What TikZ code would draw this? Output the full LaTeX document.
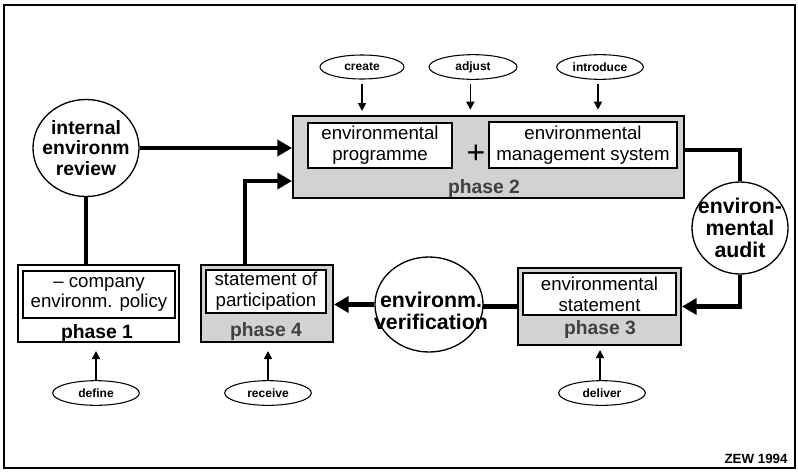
\documentclass[tikz,border=0pt]{standalone}
\usepackage{fontspec}
\setmainfont{Liberation Sans}
\usepackage{tikz}
\usetikzlibrary{arrows.meta, shapes.geometric, positioning, calc}

\begin{document}
\begin{tikzpicture}[x=0.75pt, y=-0.75pt,
    outerbox/.style={draw=black, line width=1.5pt, fill=gray!35, inner sep=0pt},
    innerbox/.style={draw=black, line width=1.2pt, fill=white, align=center, inner sep=0pt, font=\fontsize{14}{15.5}\selectfont},
    phaselabel/.style={font=\bfseries\fontsize{14.5}{16}\selectfont, text=black!75},
    stepcircle/.style={ellipse, draw=black, line width=1pt, fill=white, align=center, inner xsep=-5pt, inner ysep=0pt, font=\bfseries\fontsize{14.5}{15.5}\selectfont},
    action/.style={ellipse, draw=black, line width=0.8pt, fill=white, minimum width=65pt, minimum height=18.5pt, inner sep=0pt, font=\bfseries\fontsize{9}{10}\selectfont},
    flow/.style={line width=3.5pt, -{Triangle[length=11pt,width=12pt]}},
    link/.style={line width=3.5pt},
    push/.style={line width=1.2pt, -{Triangle[length=6pt,width=6pt]}}]
    \useasboundingbox (0,0) rectangle (798,475);
    \draw[line width=1.8pt] (4,5) rectangle (795,468);

    % phase boxes
    \node[outerbox, fill=white, minimum width=120.75pt, minimum height=57.75pt] (phase1) at (98.5,303.5) {};
    \node[innerbox, minimum width=114pt, minimum height=35.25pt] (policy) at (99,294.5) {-- company\\environm. policy};
    \node[phaselabel, text=black] (label1) at (97,333) {phase 1};

    \node[outerbox, minimum width=293.25pt, minimum height=61.5pt] (phase2) at (488.5,157) {};
    \node[innerbox, minimum width=108pt, minimum height=33.75pt] (programme) at (380,145.5) {environmental\\programme};
    \node[innerbox, minimum width=141pt, minimum height=34.5pt] (ems) at (583,145) {environmental\\management system};
    \node[font=\fontsize{24}{24}\selectfont] (plus) at (476,154) {+};
    \node[phaselabel] (label2) at (484,188) {phase 2};

    \node[outerbox, minimum width=122.25pt, minimum height=57.75pt] (phase3) at (599.5,306.5) {};
    \node[innerbox, minimum width=114.75pt, minimum height=31.5pt] (statement) at (599.5,294) {environmental\\statement};
    \node[phaselabel] (label3) at (600,329) {phase 3};

    \node[outerbox, minimum width=99pt, minimum height=57.75pt] (phase4) at (267,303.5) {};
    \node[innerbox, minimum width=90pt, minimum height=32.25pt] (participation) at (266,291.5) {statement of\\participation};
    \node[phaselabel] (label4) at (266,331) {phase 4};

    % circles
    \node[stepcircle, minimum width=79.5pt, minimum height=72.75pt] (review) at (86,148) {internal\\environm\\review};
    \node[stepcircle, minimum width=72pt, minimum height=69pt, inner xsep=-6.5pt, font=\bfseries\fontsize{16}{16.5}\selectfont] (audit) at (740,228) {environ-\\mental\\audit};
    \draw[link] (phase3.west) -- (phase3.west -| 483,0);
    \node[stepcircle, minimum width=81pt, minimum height=71.25pt] (verif) at (429,304.5) {};
    \node[font=\bfseries\fontsize{16}{16.5}\selectfont, align=center] (veriftext) at (431,311) {environm.\\verification};

    % connectors
    \draw[flow] (review) -- (review -| phase2.west);
    \draw[link] (review) -- (review |- phase1.north);
    \draw[flow] ([xshift=-16.5pt]phase4.north) |- ([yshift=-18pt]phase2.west);
    \draw[link] ([yshift=5.25pt]phase2.east) -| (audit.north);
    \draw[flow] (audit.south) |- (phase3.east);
    \draw[flow] (verif.west) -- (verif.west -| phase4.east);

    % actions
    \node[action, minimum width=63pt, minimum height=18pt] (create) at (362,67) {create};
    \node[action, minimum width=66pt] (adjust) at (473,67) {adjust};
    \node[action] (introduce) at (600,67) {introduce};
    \node[action] (define) at (96,393) {define};
    \node[action] (receive) at (268,393) {receive};
    \node[action] (deliver) at (602,393) {deliver};

    \draw[push, shorten <=3pt, shorten >=3pt] (create) -- (create |- phase2.north);
    \draw[push, shorten <=3pt, shorten >=4pt] ([xshift=-2pt]adjust.south) -- ([xshift=-2pt]adjust.south |- phase2.north);
    \draw[push, shorten <=3pt, shorten >=4pt] ([xshift=-1.5pt]introduce.south) -- ([xshift=-1.5pt]introduce.south |- phase2.north);
    \draw[push, shorten >=6pt] (define) -- (define |- phase1.south);
    \draw[push, shorten >=6pt] (receive) -- (receive |- phase4.south);
    \draw[push, shorten >=3pt] ([xshift=-1.5pt]deliver.north) -- ([xshift=-1.5pt]deliver.north |- phase3.south);

    \node[font=\bfseries\fontsize{10}{11}\selectfont] (zew) at (756,459) {ZEW 1994};
\end{tikzpicture}
\end{document}
